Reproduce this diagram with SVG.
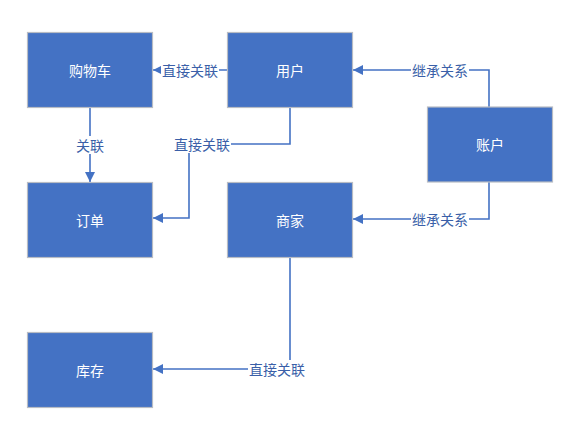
<svg xmlns="http://www.w3.org/2000/svg" width="572" height="426" viewBox="0 0 572 426">
<style>
.node rect{fill:#4472C4;stroke:#b8bcc4;stroke-width:1.2}
.node text{fill:#ffffff;font-family:"Noto Sans CJK SC","Noto Sans",sans-serif;font-size:14px;text-anchor:middle;dominant-baseline:central}
.edge{fill:none;stroke:#4472C4;stroke-width:1.6}
.lbl{fill:#3A5FA8;font-family:"Noto Sans CJK SC","Noto Sans",sans-serif;font-size:14px;text-anchor:middle;dominant-baseline:central}
.bg{fill:#ffffff}
</style>
<defs>
<marker id="arr" viewBox="0 0 10 10" refX="10" refY="5" markerWidth="10" markerHeight="10" markerUnits="userSpaceOnUse" orient="auto">
<path d="M0,0 L10,5 L0,10 Z" fill="#4472C4"/>
</marker>
</defs>
<rect width="572" height="426" fill="#ffffff"/>
<g id="connectors">
<path class="edge" d="M227,70 L153,70" marker-end="url(#arr)"/>
<path class="edge" d="M90,107 L90,182" marker-end="url(#arr)"/>
<path class="edge" d="M290,107 L290,144 L189,144 L189,218 L153,218" marker-end="url(#arr)"/>
<path class="edge" d="M489,107 L489,70 L353,70" marker-end="url(#arr)"/>
<path class="edge" d="M489,182 L489,219 L353,219" marker-end="url(#arr)"/>
<path class="edge" d="M290,257 L290,369 L153,369" marker-end="url(#arr)"/>
<rect class="bg" x="161" y="61" width="58" height="18"/>
<text class="lbl" x="190" y="70">直接关联</text>
<rect class="bg" x="75" y="136" width="30" height="18"/>
<text class="lbl" x="90" y="145">关联</text>
<rect class="bg" x="173" y="135" width="58" height="18"/>
<text class="lbl" x="202" y="144">直接关联</text>
<rect class="bg" x="411" y="61" width="58" height="18"/>
<text class="lbl" x="440" y="70">继承关系</text>
<rect class="bg" x="411" y="210" width="58" height="18"/>
<text class="lbl" x="440" y="219">继承关系</text>
<rect class="bg" x="248" y="360" width="58" height="18"/>
<text class="lbl" x="277" y="369">直接关联</text>
</g>
<g id="node-cart" class="node"><rect x="27.5" y="32.5" width="125" height="75"/><text x="90" y="69.5">购物车</text></g>
<g id="node-user" class="node"><rect x="227.5" y="32.5" width="125" height="75"/><text x="290" y="69.5">用户</text></g>
<g id="node-account" class="node"><rect x="427.5" y="107" width="125" height="75"/><text x="490" y="144">账户</text></g>
<g id="node-order" class="node"><rect x="27.5" y="182.5" width="125" height="75"/><text x="90" y="219.5">订单</text></g>
<g id="node-merchant" class="node"><rect x="227.5" y="182.5" width="125" height="75"/><text x="290" y="219.5">商家</text></g>
<g id="node-stock" class="node"><rect x="27.5" y="332.5" width="125" height="75"/><text x="90" y="369.5">库存</text></g>
</svg>
